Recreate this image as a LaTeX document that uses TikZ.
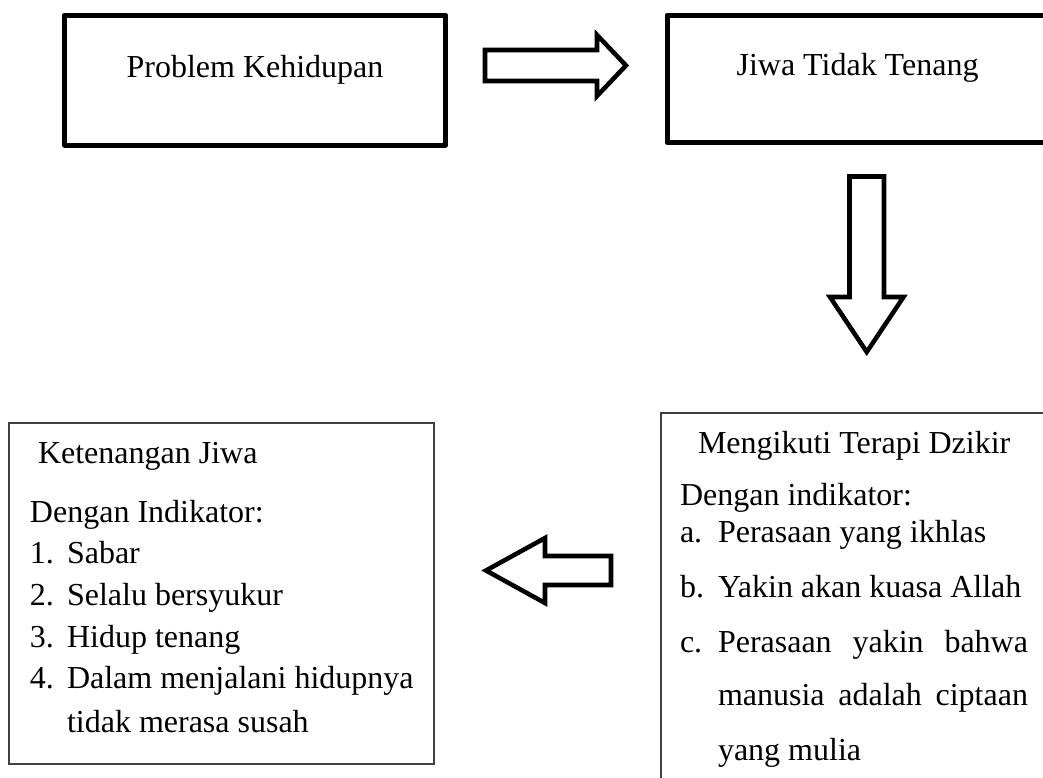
\documentclass[tikz,border=0pt]{standalone}
\usepackage{fontspec}
\setmainfont{Liberation Serif}
\begin{document}
\begin{tikzpicture}[x=0.75pt,y=-0.75pt,
  thickbox/.style={draw=black,line width=3.75pt,line join=round,inner sep=0pt,outer sep=0pt,anchor=north west},
  thinbox/.style={draw=black!75,line width=1.1pt,inner sep=0pt,outer sep=0pt,anchor=north west},
  blockarrow/.style={draw=black,line width=3.4pt,fill=white,line join=miter},
  txt/.style={inner sep=0pt,outer sep=0pt,anchor=base west,font=\fontsize{24pt}{28pt}\selectfont},
  ctxt/.style={inner sep=0pt,outer sep=0pt,anchor=base,font=\fontsize{24pt}{28pt}\selectfont}]
\useasboundingbox (0,0) rectangle (1043,778);
\clip (0,0) rectangle (1043,778);
% boxes
\node[thickbox,minimum width=285.75pt,minimum height=97.5pt] (prob) at (64.5,15) {};
\node[thickbox,minimum width=292.5pt,minimum height=95.6pt] (jiwa) at (667,15) {};
\node[thinbox,minimum width=300pt,minimum height=300pt] (dzikir) at (661,413) {};
\node[thinbox,minimum width=318.75pt,minimum height=255.75pt] (tenang) at (9,423) {};
% titles
\node[ctxt] (t1) at (255,77) {Problem Kehidupan};
\node[ctxt] (t2) at (857.5,75) {Jiwa Tidak Tenang};
% block arrows
\draw[blockarrow] (485,50) -- (597,50) -- (597,35) -- (626,65.5) -- (597,96) -- (597,81) -- (485,81) -- cycle;
\draw[blockarrow] (849.5,176.5) -- (884,176.5) -- (884,297) -- (903.5,297) -- (866.75,352) -- (830,297) -- (849.5,297) -- cycle;
\draw[blockarrow] (611,556) -- (545,556) -- (545,538) -- (486,570.5) -- (545,603) -- (545,585) -- (611,585) -- cycle;
% bottom-left text
\node[txt] (k0) at (38,463) {Ketenangan Jiwa};
\node[txt] (k1) at (30,522) {Dengan Indikator:};
\node[txt] (k2n) at (30,563) {1.};
\node[txt] (k2) at (67,563) {Sabar};
\node[txt] (k3n) at (30,605) {2.};
\node[txt] (k3) at (67,605) {Selalu bersyukur};
\node[txt] (k4n) at (30,647) {3.};
\node[txt] (k4) at (67,647) {Hidup tenang};
\node[txt] (k5n) at (30,688) {4.};
\node[txt] (k5) at (67,688) {Dalam menjalani hidupnya};
\node[txt] (k6) at (67,732) {tidak merasa susah};
% bottom-right text
\node[txt] (d0) at (698,453) {Mengikuti Terapi Dzikir};
\node[txt] (d1) at (680,505) {Dengan indikator:};
\node[txt] (d2n) at (680,542) {a.};
\node[txt] (d2) at (718,542) {Perasaan yang ikhlas};
\node[txt] (d3n) at (680,597) {b.};
\node[txt] (d3) at (718,597) {Yakin akan kuasa Allah};
\node[txt] (d4n) at (680,652) {c.};
\node[txt] (d4) at (718,652) {\makebox[232.5pt][s]{Perasaan yakin bahwa}};
\node[txt] (d5) at (718,705) {\makebox[232.5pt][s]{manusia adalah ciptaan}};
\node[txt] (d6) at (718,760) {yang mulia};
\end{tikzpicture}
\end{document}
